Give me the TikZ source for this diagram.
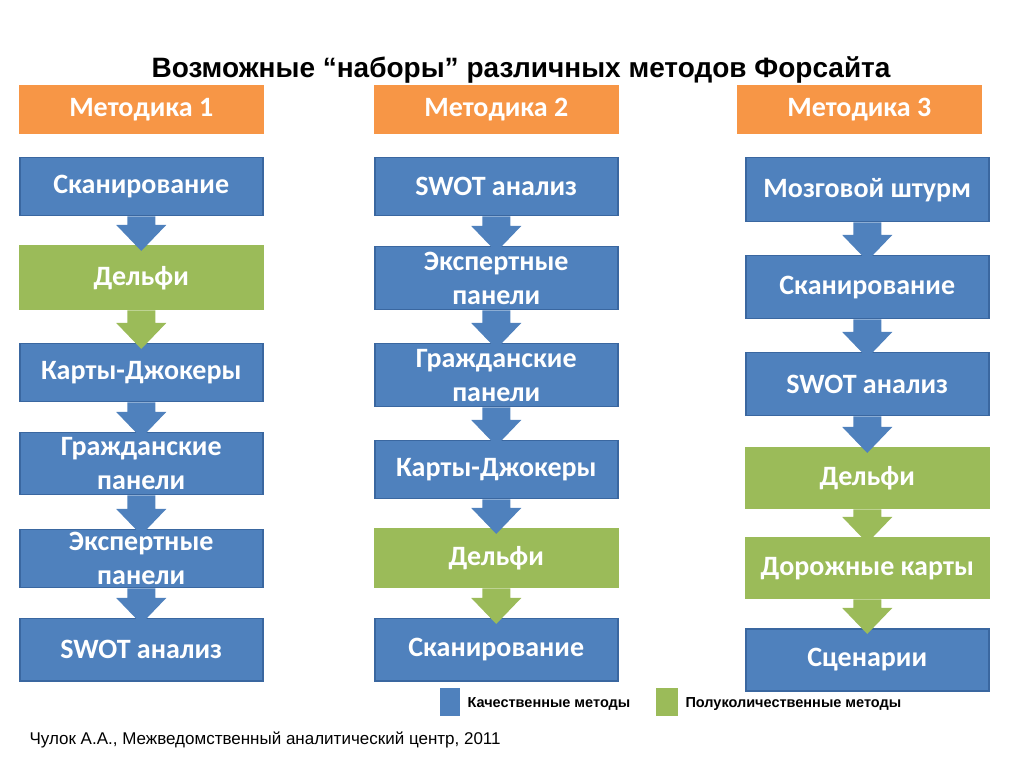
\documentclass[tikz,border=0pt]{standalone}
\usepackage{fontspec}
\setmainfont{Carlito}
\newfontfamily\arialfont{Liberation Sans}
\usetikzlibrary{calc}
\definecolor{hdrorange}{HTML}{F79646}
\definecolor{mblue}{HTML}{4F81BD}
\definecolor{mbluedark}{HTML}{3A67A0}
\definecolor{mgreen}{HTML}{9BBB59}
\tikzset{
  mbox/.style={fill=mblue, draw=mbluedark, line width=1.5pt, text=white, align=center,
    font=\fontsize{28}{34}\selectfont\bfseries, minimum width=243pt, anchor=north west, inner sep=0pt},
  gbox/.style={mbox, fill=mgreen, draw=mgreen},
  hbox/.style={mbox, fill=hdrorange, draw=hdrorange, minimum height=48pt}
}
% block arrow from box #1 to box #2 in colour #3
\newcommand{\flowarrow}[3]{%
  \path let \p1=(#1.south), \p2=(#2.north) in
    [fill=#3] (\x1-14,\y1) -- (\x1-14,\y2+20) -- (\x1-25,\y2+20) -- (\x1,\y2-6)
    -- (\x1+25,\y2+20) -- (\x1+14,\y2+20) -- (\x1+14,\y1) -- cycle;}
\begin{document}
\begin{tikzpicture}[x=1pt,y=1pt]
\useasboundingbox (0,0) rectangle (1024,768);
\node[font=\arialfont\fontsize{28}{32}\selectfont\bfseries] (title) at (521,698) {Возможные “наборы” различных методов Форсайта};
%%%%%%%%%%%%%%%% column 1
\node[hbox] (h1) at (19,683) {Методика 1};
\node[mbox, minimum height=58pt] (a1) at (19,611) {Сканирование};
\node[gbox, minimum height=64pt] (a2) at (19,523) {Дельфи};
\node[mbox, minimum height=58pt] (a3) at (19,425) {Карты-Джокеры};
\node[mbox, minimum height=62pt] (a4) at (19,336) {Гражданские\\панели};
\node[mbox, minimum height=58pt] (a5) at (19,239) {Экспертные\\панели};
\node[mbox, minimum height=62pt] (a6) at (19,150) {SWOT анализ};
\flowarrow{a1}{a2}{mblue}
\flowarrow{a2}{a3}{mgreen}
\flowarrow{a3}{a4}{mblue}
\flowarrow{a4}{a5}{mblue}
\flowarrow{a5}{a6}{mblue}
%%%%%%%%%%%%%%%% column 2
\node[hbox] (h2) at (374,683) {Методика 2};
\node[mbox, minimum height=58pt] (b1) at (374,611) {SWOT анализ};
\node[mbox, minimum height=63pt] (b2) at (374,522) {Экспертные\\панели};
\node[mbox, minimum height=63pt] (b3) at (374,425) {Гражданские\\панели};
\node[mbox, minimum height=58pt] (b4) at (374,328) {Карты-Джокеры};
\node[gbox, minimum height=59pt] (b5) at (374,240) {Дельфи};
\node[mbox, minimum height=62pt] (b6) at (374,150) {Сканирование};
\flowarrow{b1}{b2}{mblue}
\flowarrow{b2}{b3}{mblue}
\flowarrow{b3}{b4}{mblue}
\flowarrow{b4}{b5}{mblue}
\flowarrow{b5}{b6}{mgreen}
%%%%%%%%%%%%%%%% column 3
\node[hbox] (h3) at (737,683) {Методика 3};
\node[mbox, minimum height=64pt] (c1) at (745,611) {Мозговой штурм};
\node[mbox, minimum height=63pt] (c2) at (745,513) {Сканирование};
\node[mbox, minimum height=63pt] (c3) at (745,416) {SWOT анализ};
\node[gbox, minimum height=61pt] (c4) at (745,321) {Дельфи};
\node[gbox, minimum height=61pt] (c5) at (745,231) {Дорожные карты};
\node[mbox, minimum height=62pt] (c6) at (745,140) {Сценарии};
\flowarrow{c1}{c2}{mblue}
\flowarrow{c2}{c3}{mblue}
\flowarrow{c3}{c4}{mblue}
\flowarrow{c4}{c5}{mgreen}
\flowarrow{c5}{c6}{mgreen}
%%%%%%%%%%%%%%%% legend
\fill[mblue] (440,52) rectangle (460,80);
\node[anchor=west, font=\arialfont\fontsize{14.5}{17}\selectfont\bfseries] (lq) at (464,64) {Качественные методы};
\fill[mgreen] (656,52) rectangle (678,80);
\node[anchor=west, font=\arialfont\fontsize{14.5}{17}\selectfont\bfseries] (lp) at (682,64) {Полуколичественные методы};
\node[anchor=west, font=\arialfont\fontsize{17}{20}\selectfont] (src) at (26,28) {Чулок А.А., Межведомственный аналитический центр, 2011};
\end{tikzpicture}
\end{document}
